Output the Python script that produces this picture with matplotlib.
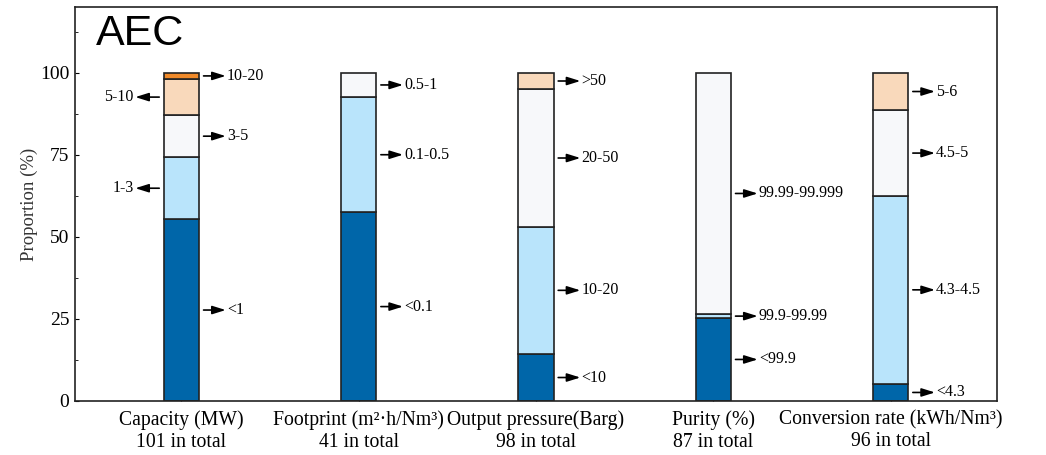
import matplotlib
matplotlib.use("Agg")
import matplotlib.pyplot as plt
from matplotlib.ticker import MultipleLocator
import numpy as np

plt.rcParams['font.family'] = ['Liberation Serif', 'DejaVu Serif']

# --- data: share of projects (%) per category, bottom to top ---
categories = ['Capacity (MW)', 'Footprint (m²·h/Nm³)', 'Output pressure(Barg)',
              'Purity (%)', 'Conversion rate (kWh/Nm³)']
totals = [101, 41, 98, 87, 96]

capacity_vals = [55.4, 18.8, 12.9, 10.9, 2.0]
capacity_lbls = ['<1', '1-3', '3-5', '5-10', '10-20']

footprint_vals = [57.5, 35.0, 7.5]
footprint_lbls = ['<0.1', '0.1-0.5', '0.5-1']

pressure_vals = [14.3, 38.8, 41.8, 5.1]
pressure_lbls = ['<10', '10-20', '20-50', '>50']

purity_vals = [25.3, 1.1, 73.6]
purity_lbls = ['<99.9', '99.9-99.99', '99.99-99.999']

conversion_vals = [5.2, 57.3, 26.0, 11.5]
conversion_lbls = ['<4.3', '4.3-4.5', '4.5-5', '5-6']

series = [capacity_vals, footprint_vals, pressure_vals, purity_vals, conversion_vals]
labels = [capacity_lbls, footprint_lbls, pressure_lbls, purity_lbls, conversion_lbls]
left_labels = {(0, '5-10'), (0, '1-3')}   # labels placed left of the bar

seg_colors = ['#0066a9', '#b9e4fb', '#f7f8fa', '#f9d9bb', '#f08a2a']

fig = plt.figure(figsize=(10.46, 4.55), dpi=100)
ax = fig.add_axes([0.0717, 0.1187, 0.8815, 0.866])

x = np.arange(1, len(categories) + 1)
width = 0.2
arrow = dict(arrowstyle='-|>,head_length=0.8,head_width=0.25', color='black',
             lw=1.2, shrinkA=0, shrinkB=0)

for i, (vals, lbls) in enumerate(zip(series, labels)):
    bottom = 0.0
    for j, (v, lab) in enumerate(zip(vals, lbls)):
        ax.bar(x[i], v, width=width, bottom=bottom, color=seg_colors[j],
               edgecolor='#222222', linewidth=1.2, zorder=2)
        ymid = bottom + v / 2
        if (i, lab) in left_labels:
            ax.annotate('', xy=(x[i] - 0.26, ymid), xytext=(x[i] - 0.125, ymid),
                        arrowprops=arrow)
            ax.text(x[i] - 0.27, ymid, lab, ha='right', va='center', fontsize=11.5)
        else:
            ax.annotate('', xy=(x[i] + 0.25, ymid), xytext=(x[i] + 0.125, ymid),
                        arrowprops=arrow)
            ax.text(x[i] + 0.257, ymid, lab, ha='left', va='center', fontsize=11.5)
        bottom += v

ax.set_xlim(0.4, 5.6)
ax.set_ylim(0, 120)
ax.set_xticks(x)
ax.set_xticklabels([f'{c}\n{t} in total' for c, t in zip(categories, totals)],
                   fontsize=14.2, linespacing=1.15)
ax.set_yticks([0, 25, 50, 75, 100])
ax.yaxis.set_minor_locator(MultipleLocator(12.5))
ax.tick_params(axis='y', which='major', direction='in', length=3, labelsize=14, pad=4)
ax.tick_params(axis='y', which='minor', direction='in', length=2)
ax.tick_params(axis='x', which='major', direction='in', length=3, pad=7)

ax.set_ylabel('Proportion (%)', fontsize=13.5, color='#333333')
ax.yaxis.set_label_coords(-0.04, 0.5)

for s in ax.spines.values():
    s.set_linewidth(1.2)
    s.set_color('#222222')

ax.text(0.0228, 0.9036, 'AEC', transform=ax.transAxes, fontsize=31,
        family='Liberation Sans', ha='left', va='baseline')

fig.savefig('out.png', dpi=100)
